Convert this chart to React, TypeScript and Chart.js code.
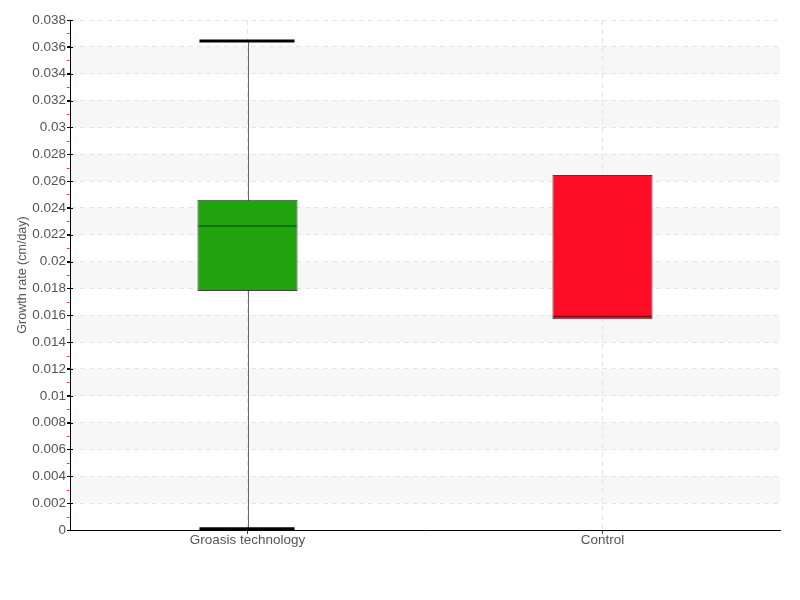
import React, { useEffect, useRef } from "react";
import { Chart, registerables } from "chart.js";

Chart.register(...registerables);

const categories = ["Groasis technology", "Control"];
const mins = [0.0001, 0.0157];
const q1s = [0.0178, 0.0157];
const medians = [0.02265, 0.0159];
const q3s = [0.0246, 0.02645];
const maxs = [0.03644, 0.02645];
const boxColors = ["#21A310", "#FF0D27"];
const medianColors = ["#145E0A", "#8A0012"];
const yTickValues = [0, 0.002, 0.004, 0.006, 0.008, 0.01, 0.012, 0.014, 0.016, 0.018, 0.02, 0.022, 0.024, 0.026, 0.028, 0.03, 0.032, 0.034, 0.036, 0.038];

const FONT = "'Liberation Sans', Arial, sans-serif";

const boxPlugin = {
  id: "boxPlugin",
  beforeDraw(chart: any) {
    const { ctx, chartArea, scales } = chart;
    const y = scales.y;
    ctx.save();
    ctx.fillStyle = "#f7f7f7";
    for (let i = 1; i + 1 < yTickValues.length; i += 2) {
      const top = y.getPixelForValue(yTickValues[i + 1]);
      const bot = y.getPixelForValue(yTickValues[i]);
      ctx.fillRect(chartArea.left, top, chartArea.right - chartArea.left, bot - top);
    }
    ctx.restore();
  },
  beforeDatasetsDraw(chart: any) {
    const { ctx, scales } = chart;
    const x = scales.x;
    const y = scales.y;
    ctx.save();
    ctx.strokeStyle = "#666";
    ctx.lineWidth = 1;
    categories.forEach((_, i) => {
      if (mins[i] >= q1s[i] && maxs[i] <= q3s[i]) return;
      const cx = Math.round(x.getPixelForValue(i)) + 0.5;
      ctx.beginPath();
      ctx.moveTo(cx, y.getPixelForValue(mins[i]));
      ctx.lineTo(cx, y.getPixelForValue(maxs[i]));
      ctx.stroke();
    });
    ctx.restore();
  },
  afterDatasetsDraw(chart: any) {
    const { ctx, scales } = chart;
    const x = scales.x;
    const y = scales.y;
    const meta = chart.getDatasetMeta(0);
    ctx.save();
    categories.forEach((_, i) => {
      const bar = meta.data[i];
      const w = bar.width;
      const cx = x.getPixelForValue(i);
      if (!(mins[i] >= q1s[i] && maxs[i] <= q3s[i])) {
        ctx.strokeStyle = "#000";
        ctx.lineWidth = 3;
        [mins[i], maxs[i]].forEach((v) => {
          const py = y.getPixelForValue(v);
          ctx.beginPath();
          ctx.moveTo(cx - w * 0.48, py);
          ctx.lineTo(cx + w * 0.47, py);
          ctx.stroke();
        });
      }
      ctx.strokeStyle = medianColors[i];
      ctx.lineWidth = 1.5;
      const my = y.getPixelForValue(medians[i]);
      ctx.beginPath();
      ctx.moveTo(cx - w / 2 + 1, my);
      ctx.lineTo(cx + w / 2 - 1, my);
      ctx.stroke();
    });
    ctx.restore();
  },
  afterDraw(chart: any) {
    const { ctx, chartArea, scales } = chart;
    const y = scales.y;
    const left = chartArea.left;
    ctx.save();
    ctx.lineWidth = 1;
    ctx.strokeStyle = "#000";
    yTickValues.forEach((v) => {
      const py = Math.round(y.getPixelForValue(v)) + 0.5;
      ctx.beginPath();
      ctx.moveTo(left - 3, py);
      ctx.lineTo(left + 3, py);
      ctx.stroke();
    });
    ctx.strokeStyle = "#ff2a2a";
    for (let i = 0; i + 1 < yTickValues.length; i++) {
      const v = (yTickValues[i] + yTickValues[i + 1]) / 2;
      const py = Math.round(y.getPixelForValue(v)) + 0.5;
      ctx.beginPath();
      ctx.moveTo(left - 3, py);
      ctx.lineTo(left - 0.5, py);
      ctx.stroke();
    }
    ctx.restore();
  },
};

export default function App() {
  const ref = useRef<HTMLCanvasElement>(null);
  useEffect(() => {
    if (!ref.current) return;
    const chart = new Chart(ref.current, {
      type: "bar",
      data: {
        labels: categories,
        datasets: [
          {
            data: categories.map((_, i) => [q1s[i], q3s[i]]) as any,
            backgroundColor: boxColors,
            borderColor: "rgba(30,30,30,0.85)",
            borderWidth: 1,
            borderSkipped: false,
            barPercentage: 0.282,
            categoryPercentage: 1,
          },
        ],
      },
      options: {
        responsive: false,
        animation: false,
        layout: { padding: { top: 20, right: 20, left: 15, bottom: 0 } },
        plugins: { legend: { display: false }, tooltip: { enabled: false } },
        scales: {
          x: {
            offset: true,
            grid: {
              offset: false,
              color: "#e4e4e4",
              drawTicks: true,
              tickLength: 4,
              tickColor: "#444",
              tickBorderDash: [],
            },
            border: { display: true, color: "#000", width: 1, dash: [5, 4] },
            ticks: { color: "#555", font: { family: FONT, size: 13.5 }, padding: -2 },
            afterFit: (s: any) => { s.height = 70; },
          },
          y: {
            min: 0,
            max: 0.038,
            grid: {
              color: "#e4e4e4",
              drawTicks: true,
              tickLength: 3,
              tickColor: "#000",
              tickBorderDash: [],
            },
            border: { display: true, color: "#000", width: 1, dash: [5, 4] },
            ticks: {
              stepSize: 0.002,
              color: "#555",
              font: { family: FONT, size: 13.5 },
              padding: 1,
              callback: (v: any) => String(Number(Number(v).toFixed(4))),
            },
            title: {
              display: true,
              text: "Growth rate (cm/day)",
              color: "#555",
              font: { family: FONT, size: 12.5 },
              padding: 0,
            },
            afterFit: (s: any) => { s.width = 55; },
          },
        },
      },
      plugins: [boxPlugin],
    });
    return () => chart.destroy();
  }, []);
  return (
    <div style={{ position: "absolute", left: 0, top: 0, width: 800, height: 600, background: "#fff" }}>
      <canvas ref={ref} width={800} height={600} style={{ display: "block" }} />
    </div>
  );
}
